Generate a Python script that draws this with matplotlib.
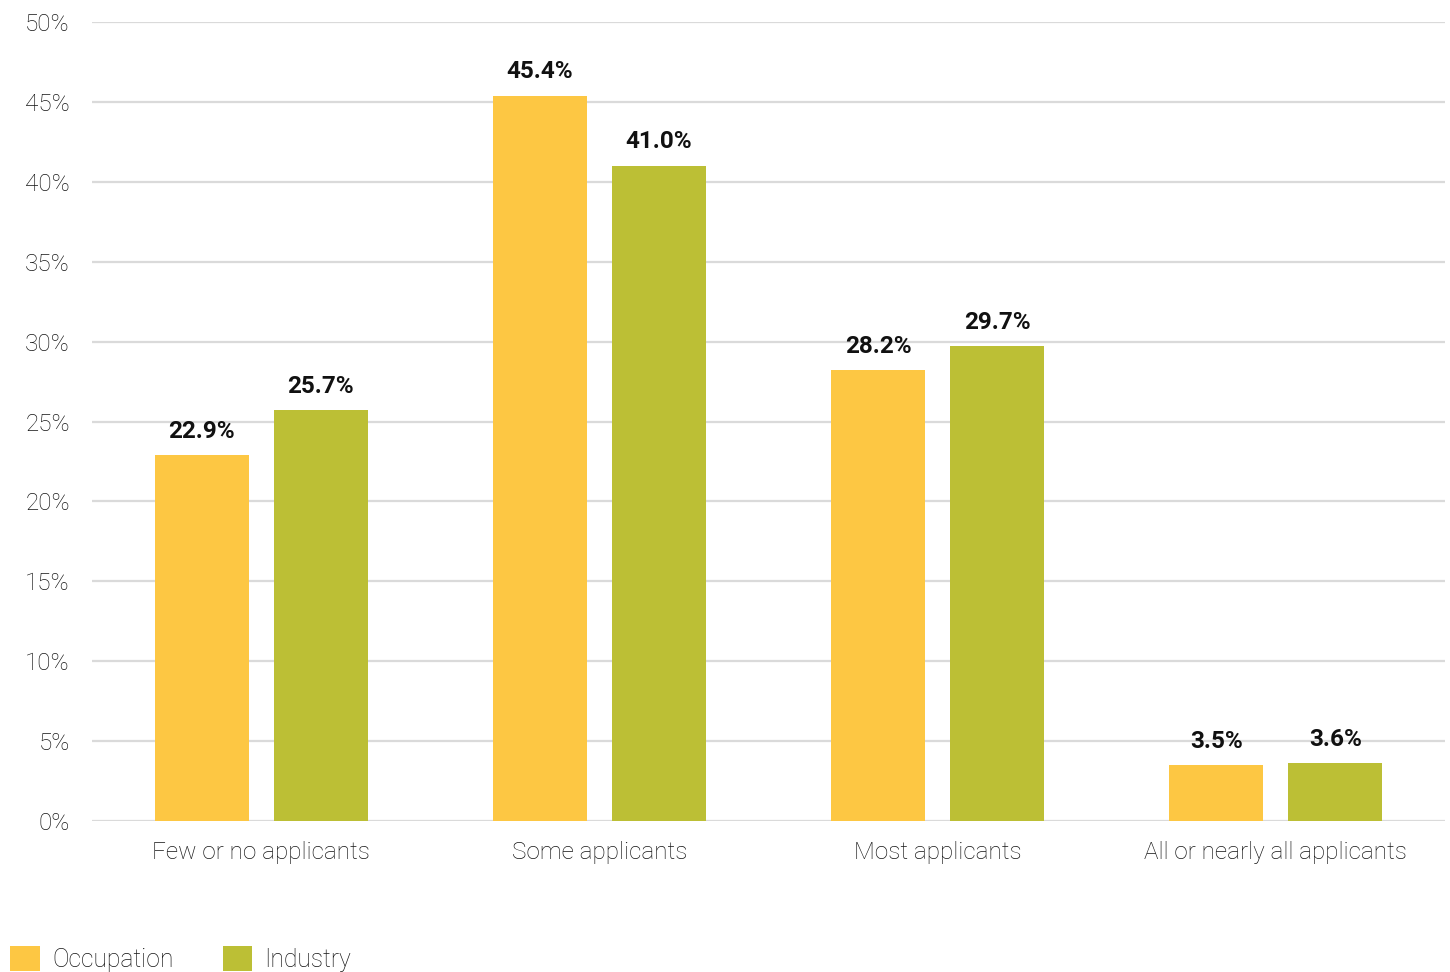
import matplotlib
matplotlib.use("Agg")
import matplotlib.pyplot as plt
import numpy as np
from matplotlib.patches import Patch

categories = ["Few or no applicants", "Some applicants", "Most applicants", "All or nearly all applicants"]
occupation = [22.9, 45.4, 28.2, 3.5]
industry = [25.7, 41.0, 29.7, 3.6]
series_names = ["Occupation", "Industry"]
colors = ["#FDC743", "#BCBF35"]
yticks = [0, 5, 10, 15, 20, 25, 30, 35, 40, 45, 50]

plt.rcParams['font.family'] = ['Roboto', 'DejaVu Sans']

fig = plt.figure(figsize=(14.5, 9.72), dpi=100)
ax = fig.add_axes([92/1450, (972-821)/972, (1445-92)/1450, (821-22)/972])

x = np.arange(len(categories))
w = 0.278
off = 0.176
b1 = ax.bar(x - off, occupation, w, color=colors[0], zorder=3)
b2 = ax.bar(x + off, industry, w, color=colors[1], zorder=3)

for bars, vals in ((b1, occupation), (b2, industry)):
    for r, v in zip(bars, vals):
        ax.annotate(f"{v:.1f}%", (r.get_x() + r.get_width()/2, v),
                    xytext=(0, 9), textcoords="offset points",
                    ha="center", va="bottom", fontsize=17.5, fontweight="bold",
                    color="#111111")

ax.set_xlim(-0.5, 3.5)
ax.set_ylim(0, 50)
ax.set_yticks(yticks)
ax.set_yticklabels([f"{t}%" for t in yticks], fontsize=17.5, color="#151515", fontweight="light")
ax.set_xticks(x)
ax.set_xticklabels(categories, fontsize=17.5, color="#151515", fontweight="light")
ax.tick_params(axis="y", length=0, pad=16)
ax.tick_params(axis="x", length=0, pad=14.5)
ax.grid(axis="y", color="#DADADA", linewidth=1.6, zorder=0)
for s in ax.spines.values():
    s.set_visible(False)

handles = [Patch(facecolor=c, edgecolor="none") for c in colors]
fig.legend(handles, series_names, loc="center left",
           bbox_to_anchor=(-2/1450, (972-959)/972), ncol=2, frameon=False,
           handlelength=1.2, handleheight=1.2,
           handletextpad=0.5, columnspacing=2.0, borderpad=0,
           prop={'weight': 'light', 'size': 17.7})
for t in fig.legends[0].get_texts():
    t.set_color("#151515")

fig.savefig("out.png", dpi=100, facecolor="white")
